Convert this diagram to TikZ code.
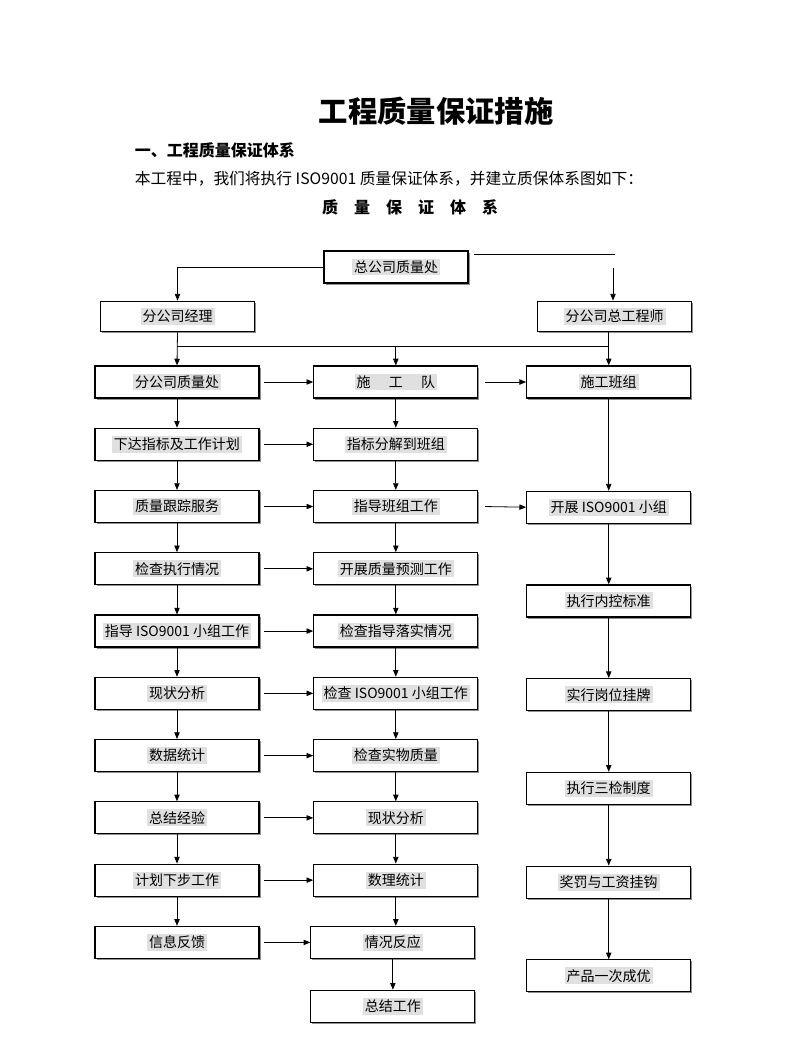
\documentclass[tikz,border=0pt]{standalone}
\usepackage{fontspec}
\setmainfont{Noto Sans CJK SC}
\usetikzlibrary{positioning, arrows.meta, shadows}

\newcommand{\hl}[1]{{\setlength{\fboxsep}{1.5pt}\colorbox{black!12}{#1}}}

\begin{document}
\begin{tikzpicture}[x = 0.75pt, y = -0.75pt, font = \fontsize{10.5pt}{12pt}\selectfont, line width = 0.6pt, >={Triangle[length = 5pt, width = 4pt]},
    box/.style = {draw, line width = 0.9pt, fill = white, minimum width = 123pt, minimum height = 24pt, inner sep = 0pt,
                  drop shadow = {shadow xshift = 1.2pt, shadow yshift = -1.2pt, fill = black!55, opacity = 0.8}},
    flow/.style = {->}]
  \useasboundingbox (0,0) rectangle (793,1058);

  % page heading
  \node (title) [font = \fontsize{22pt}{26pt}\selectfont\bfseries] at (436,111) {工程质量保证措施};
  \node (section) [anchor = west, font = \fontsize{12pt}{14pt}\selectfont\bfseries] at (130,150) {一、工程质量保证体系};
  \node (intro) [anchor = west, font = \fontsize{11.8pt}{14pt}\selectfont] at (130,179) {本工程中，我们将执行 ISO9001 质量保证体系，并建立质保体系图如下：};
  \node (caption) [font = \fontsize{12pt}{14pt}\selectfont\bfseries] at (410,207) {质\quad 量\quad 保\quad 证\quad 体\quad 系};

  % top of the chart
  \node (hq) [box, minimum width = 108pt] at (396,267) {\hl{总公司质量处}};
  \node (manager) [box, minimum width = 116pt, minimum height = 23pt] at (177.5,316.5) {\hl{分公司经理}};
  \node (engineer) [box, minimum width = 116pt, minimum height = 23pt] at (614.5,316.5) {\hl{分公司总工程师}};

  % left column
  \node (qdept) [box] at (177,382) {\hl{分公司质量处}};
  \node (target) [box, below = 21.8pt of qdept] {\hl{下达指标及工作计划}};
  \node (track) [box, below = 21.8pt of target] {\hl{质量跟踪服务}};
  \node (check) [box, below = 21.8pt of track] {\hl{检查执行情况}};
  \node (guide) [box, below = 21.8pt of check] {\hl{指导 ISO9001 小组工作}};
  \node (status) [box, below = 21.8pt of guide] {\hl{现状分析}};
  \node (stats) [box, below = 21.8pt of status] {\hl{数据统计}};
  \node (lessons) [box, below = 21.8pt of stats] {\hl{总结经验}};
  \node (nextplan) [box, below = 21.8pt of lessons] {\hl{计划下步工作}};
  \node (feedback) [box, below = 21.8pt of nextplan] {\hl{信息反馈}};

  % middle column
  \node (team) [box, right = 40.2pt of qdept] {\hl{施\hspace{1.3em}工\hspace{1.3em}队}};
  \node (split) [box, right = 40.2pt of target] {\hl{指标分解到班组}};
  \node (guidecrew) [box, right = 40.2pt of track] {\hl{指导班组工作}};
  \node (forecast) [box, right = 40.2pt of check] {\hl{开展质量预测工作}};
  \node (verify) [box, right = 40.2pt of guide] {\hl{检查指导落实情况}};
  \node (checkiso) [box, right = 40.2pt of status] {\hl{检查 ISO9001 小组工作}};
  \node (quality) [box, right = 40.2pt of stats] {\hl{检查实物质量}};
  \node (analysis) [box, right = 40.2pt of lessons] {\hl{现状分析}};
  \node (tally) [box, right = 40.2pt of nextplan] {\hl{数理统计}};
  \node (response) [box, right = 38pt of feedback] {\hl{情况反应}};
  \node (review) [box, below = 23pt of response] {\hl{总结工作}};

  % right column
  \node (crew) [box, right = 35.8pt of team] {\hl{施工班组}};
  \node (isogroup) [box, below = 69pt of crew] {\hl{开展 ISO9001 小组}};
  \node (control) [box, below = 45.4pt of isogroup] {\hl{执行内控标准}};
  \node (posts) [box, below = 45.4pt of control] {\hl{实行岗位挂牌}};
  \node (threecheck) [box, below = 45.4pt of posts] {\hl{执行三检制度}};
  \node (reward) [box, below = 45.4pt of threecheck] {\hl{奖罚与工资挂钩}};
  \node (product) [box, below = 45.4pt of reward] {\hl{产品一次成优}};

  % connectors at the top
  \coordinate (hqend) at (615,254);
  \coordinate (engtop) at (613,268);
  \coordinate (bus) at (0,346);
  \draw [flow] (hq.west) -| (manager.north);
  \draw ([xshift = 4pt] hq.east |- hqend) -- (hqend);
  \draw [flow] (engtop) -- (engtop |- engineer.north);
  \draw [flow] (manager.south) -- (qdept.north);
  \draw (qdept.north |- bus) -- (crew.north |- bus);
  \draw [flow] (team.north |- bus) -- (team.north);
  \draw [flow] (crew.north |- engineer.south) -- (crew.north);

  % left column down
  \draw [flow] (qdept) -- (target);
  \draw [flow] (target) -- (track);
  \draw [flow] (track) -- (check);
  \draw [flow] (check) -- (guide);
  \draw [flow] (guide) -- (status);
  \draw [flow] (status) -- (stats);
  \draw [flow] (stats) -- (lessons);
  \draw [flow] (lessons) -- (nextplan);
  \draw [flow] (nextplan) -- (feedback);

  % middle column down
  \draw [flow] (team) -- (split);
  \draw [flow] (split) -- (guidecrew);
  \draw [flow] (guidecrew) -- (forecast);
  \draw [flow] (forecast) -- (verify);
  \draw [flow] (verify) -- (checkiso);
  \draw [flow] (checkiso) -- (quality);
  \draw [flow] (quality) -- (analysis);
  \draw [flow] (analysis) -- (tally);
  \draw [flow] (tally.south) -- (tally.south |- response.north);
  \draw [flow] (response) -- (review);

  % right column down
  \draw [flow] (crew) -- (isogroup);
  \draw [flow] (isogroup) -- (control);
  \draw [flow] (control) -- (posts);
  \draw [flow] (posts) -- (threecheck);
  \draw [flow] (threecheck) -- (reward);
  \draw [flow] (reward) -- (product);

  % across
  \draw [flow] ([xshift = 3pt] qdept.east) -- (team.west);
  \draw [flow] ([xshift = 3pt] target.east) -- (split.west);
  \draw [flow] ([xshift = 3pt] track.east) -- (guidecrew.west);
  \draw [flow] ([xshift = 3pt] check.east) -- (forecast.west);
  \draw [flow] ([xshift = 3pt] guide.east) -- (verify.west);
  \draw [flow] ([xshift = 3pt] status.east) -- (checkiso.west);
  \draw [flow] ([xshift = 3pt] stats.east) -- (quality.west);
  \draw [flow] ([xshift = 3pt] lessons.east) -- (analysis.west);
  \draw [flow] ([xshift = 3pt] nextplan.east) -- (tally.west);
  \draw [flow] ([xshift = 3pt] feedback.east) -- (response.west);
  \draw [flow] ([xshift = 5pt] team.east) -- (crew.west);
  \draw [flow] ([xshift = 5pt] guidecrew.east) -- (isogroup.west);
\end{tikzpicture}
\end{document}
